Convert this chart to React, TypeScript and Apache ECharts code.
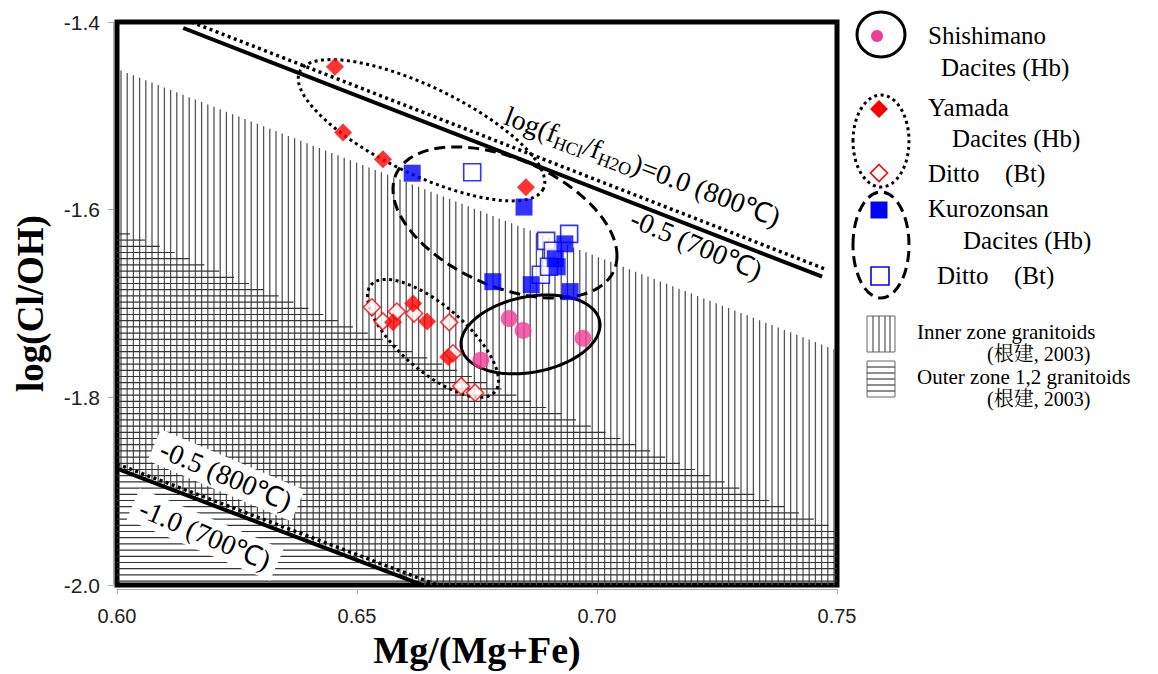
import React, { useEffect, useRef } from "react";
import * as echarts from "echarts";

// ---------------- data ----------------
const xTickValues = [0.6, 0.65, 0.7, 0.75];
const yTickValues = [-2.0, -1.8, -1.6, -1.4];

const shishimanoHb: number[][] = [
  [0.6817, -1.716], [0.6846, -1.7286], [0.6971, -1.7371], [0.6758, -1.7604],
];
const yamadaHb: number[][] = [
  [0.6454, -1.4477], [0.6471, -1.5177], [0.6554, -1.5463], [0.6852, -1.576],
  [0.6617, -1.700], [0.6575, -1.720], [0.6646, -1.719], [0.669, -1.757],
];
const yamadaBt: number[][] = [
  [0.6531, -1.704], [0.6554, -1.719], [0.6583, -1.7085], [0.6619, -1.7106],
  [0.6692, -1.720], [0.670, -1.753], [0.6717, -1.788], [0.6746, -1.795],
];
const kurozonsanHb: number[][] = [
  [0.6615, -1.5611], [0.6848, -1.5972], [0.6783, -1.6767], [0.6863, -1.6799],
  [0.6944, -1.6873], [0.6933, -1.6364], [0.6917, -1.6608], [0.6913, -1.6523],
];
const kurozonsanBt: number[][] = [
  [0.6740, -1.5601], [0.6894, -1.6332], [0.6942, -1.6258], [0.6908, -1.6438],
  [0.6883, -1.6693], [0.6900, -1.6608],
];

// log(fHCl/fH2O) isopleths
const lineHcl00at800: number[][] = [[0.6155, -1.4], [0.7479, -1.664]];
const lineHcl05at700: number[][] = [[0.6138, -1.4064], [0.7469, -1.6714]];
const lineHcl05at800: number[][] = [[0.6, -1.871], [0.6668, -2.0]];
const lineHcl10at700: number[][] = [[0.6, -1.876], [0.6637, -2.0]];

// granitoid fields (根建, 2003)
const innerZone: number[][] = [[0.6, -1.45], [0.75, -1.75], [0.75, -2.0], [0.6637, -2.0], [0.6, -1.876]];
const outerZone: number[][] = [[0.6, -1.62], [0.75, -1.94], [0.75, -2.0], [0.6, -2.0]];

// group ellipses: centre + two conjugate semi-diameters (data units)
const ellipseShishimano = { c: [0.68615, -1.73288], a: [0.014479, 0.010071], b: [0, -0.040814] };
const ellipseYamadaHb = { c: [0.66344, -1.51534], a: [0.025375, -0.06244], b: [-0.004, -0.042086] };
const ellipseYamadaBt = { c: [0.66583, -1.73711], a: [0.012896, -0.057034], b: [-0.00451, -0.0264] };
const ellipseKurozonsan = { c: [0.68083, -1.61361], a: [0.023333, -0.035514], b: [0, -0.0723] };

// line label anchors (data units)
const labelAnchors: number[][] = [[0.6810, -1.499], [0.70729, -1.608], [0.62271, -1.8830], [0.61833, -1.9460]];

// ---------------- styles ----------------
const SERIF = "'Liberation Serif', 'Times New Roman', serif";
const SERIF_CJK = "'Liberation Serif', 'Noto Serif CJK JP', 'Noto Sans CJK JP', serif";
const SANS = "'Liberation Sans', Arial, sans-serif";
const DOT = [3, 3.5];
const DASH = [11, 6];

const ellipseList = [
  { e: ellipseShishimano, dash: null as number[] | null },
  { e: ellipseYamadaHb, dash: DOT },
  { e: ellipseYamadaBt, dash: DOT },
  { e: ellipseKurozonsan, dash: DASH },
];

function span(poly: number[][], axis: number, c: number): [number, number] | null {
  const other = axis === 0 ? 1 : 0;
  const vals: number[] = [];
  for (let i = 0; i < poly.length; i++) {
    const a = poly[i];
    const b = poly[(i + 1) % poly.length];
    const a0 = a[axis], b0 = b[axis];
    if (a0 === b0) continue;
    if ((a0 - c) * (b0 - c) <= 0) {
      const t = (c - a0) / (b0 - a0);
      vals.push(a[other] + t * (b[other] - a[other]));
    }
  }
  if (vals.length < 2) return null;
  return [Math.min(...vals), Math.max(...vals)];
}

function angleOf(api: any, line: number[][]) {
  const p1 = api.coord(line[0]);
  const p2 = api.coord(line[1]);
  return -Math.atan2(p2[1] - p1[1], p2[0] - p1[0]);
}

const txt = (x: number, y: number, text: string, size = 25, family = SERIF) => ({
  type: "text",
  x,
  y,
  silent: true,
  z: 100,
  style: {
    text,
    font: `${size}px ${family}`,
    fontSize: size,
    fontFamily: family,
    fill: "#000",
    align: "left",
    verticalAlign: "middle",
  },
});

const diamond = (cx: number, cy: number, h: number, filled: boolean) => ({
  type: "polygon",
  silent: true,
  z: 100,
  shape: { points: [[cx, cy - h], [cx + h, cy], [cx, cy + h], [cx - h, cy]] },
  style: filled ? { fill: "#ff0000" } : { fill: "#fff", stroke: "#ff0000", lineWidth: 1.6 },
});

const square = (cx: number, cy: number, s: number, filled: boolean) => ({
  type: "rect",
  silent: true,
  z: 100,
  shape: { x: cx - s / 2, y: cy - s / 2, width: s, height: s },
  style: filled ? { fill: "#0000ff" } : { fill: "#fff", stroke: "#0000ff", lineWidth: 1.6 },
});

function legendGraphics() {
  const g: any[] = [];
  g.push({ type: "ellipse", z: 100, silent: true, shape: { cx: 881, cy: 34.5, rx: 24, ry: 22.5 }, style: { fill: "none", stroke: "#000", lineWidth: 3 } });
  g.push({ type: "circle", z: 100, silent: true, shape: { cx: 877, cy: 36, r: 6 }, style: { fill: "#f03c96" } });
  g.push(txt(928, 35, "Shishimano"), txt(941, 67, "Dacites (Hb)"));

  g.push({ type: "ellipse", z: 100, silent: true, shape: { cx: 881, cy: 141, rx: 28, ry: 46 }, style: { fill: "none", stroke: "#000", lineWidth: 3, lineDash: DOT } });
  g.push(diamond(879, 109, 9, true), diamond(879, 173, 8.5, false));
  g.push(txt(928, 107, "Yamada"), txt(952, 138, "Dacites (Hb)"), txt(928, 173, "Ditto"), txt(1005, 173, "(Bt)"));

  g.push({ type: "ellipse", z: 100, silent: true, shape: { cx: 881, cy: 245, rx: 28, ry: 53 }, style: { fill: "none", stroke: "#000", lineWidth: 3, lineDash: DASH } });
  g.push(square(879, 210, 17, true), square(880, 276, 18, false));
  g.push(txt(928, 208, "Kurozonsan"), txt(963, 240, "Dacites (Hb)"), txt(937, 275, "Ditto"), txt(1014, 275, "(Bt)"));

  // hatch legend boxes
  g.push({ type: "rect", z: 100, silent: true, shape: { x: 867, y: 316, width: 28, height: 36 }, style: { fill: "#fff", stroke: "#666", lineWidth: 1 } });
  [873, 879, 885, 890].forEach((x) =>
    g.push({ type: "line", z: 100, silent: true, shape: { x1: x, y1: 316, x2: x, y2: 352 }, style: { stroke: "#555", lineWidth: 1.2 } })
  );
  g.push({ type: "rect", z: 100, silent: true, shape: { x: 867, y: 361, width: 28, height: 36 }, style: { fill: "#fff", stroke: "#666", lineWidth: 1 } });
  [367, 373, 379, 385, 391].forEach((y) =>
    g.push({ type: "line", z: 100, silent: true, shape: { x1: 867, y1: y, x2: 895, y2: y }, style: { stroke: "#444", lineWidth: 1.2 } })
  );
  g.push(txt(917, 332, "Inner zone granitoids", 21, SERIF_CJK), txt(987, 354, "(根建, 2003)", 20, SERIF_CJK));
  g.push(txt(917, 377, "Outer zone 1,2 granitoids", 21, SERIF_CJK), txt(987, 399, "(根建, 2003)", 20, SERIF_CJK));
  return g;
}

function buildOption(): any {
  const refLine = (data: number[][], dotted: boolean) => ({
    type: "line",
    data,
    symbol: "none",
    showSymbol: false,
    silent: true,
    lineStyle: { color: "#000", width: dotted ? 3.5 : 4, type: dotted ? DOT : "solid" },
  });

  return {
    animation: false,
    backgroundColor: "#fff",
    grid: { left: 117, right: 321, top: 22, bottom: 86, show: true, borderColor: "#000", borderWidth: 5 },
    xAxis: {
      type: "value",
      min: xTickValues[0],
      max: xTickValues[xTickValues.length - 1],
      interval: 0.05,
      offset: 4,
      axisLine: { show: true, onZero: false, lineStyle: { color: "#aaa", width: 1 } },
      axisTick: { show: true, length: 5, lineStyle: { color: "#aaa" } },
      splitLine: { show: false },
      axisLabel: { formatter: (v: number) => v.toFixed(2), fontSize: 20, color: "#222", fontFamily: SANS, margin: 17 },
      name: "Mg/(Mg+Fe)",
      nameLocation: "middle",
      nameGap: 37,
      nameTextStyle: { fontFamily: SERIF, fontWeight: "bold", fontSize: 38, color: "#000" },
    },
    yAxis: {
      type: "value",
      min: yTickValues[0],
      max: yTickValues[yTickValues.length - 1],
      interval: 0.2,
      offset: 4,
      axisLine: { show: true, onZero: false, lineStyle: { color: "#aaa", width: 1 } },
      axisTick: { show: true, length: 5, lineStyle: { color: "#aaa" } },
      splitLine: { show: false },
      axisLabel: { formatter: (v: number) => v.toFixed(1), fontSize: 21, color: "#222", fontFamily: SANS, margin: 13 },
      name: "log(Cl/OH)",
      nameLocation: "middle",
      nameGap: 64,
      nameTextStyle: { fontFamily: SERIF, fontWeight: "bold", fontSize: 37, color: "#000" },
    },
    graphic: legendGraphics(),
    series: [
      {
        type: "custom",
        name: "zones",
        silent: true,
        clip: true,
        data: [innerZone[0], outerZone[0]],
        renderItem: (params: any, api: any) => {
          const vertical = params.dataIndex === 0;
          const poly = (vertical ? innerZone : outerZone).map((p) => api.coord(p));
          const children: any[] = [];
          if (vertical) {
            const xs = poly.map((p) => p[0]);
            const x0 = Math.min(...xs), x1 = Math.max(...xs);
            for (let x = x0 + 4; x < x1 - 2; x += 6.2) {
              const r = span(poly, 0, x);
              if (r) children.push({ type: "line", shape: { x1: x, y1: r[0], x2: x, y2: r[1] }, style: { stroke: "#555", lineWidth: 1.3 } });
            }
          } else {
            const ys = poly.map((p) => p[1]);
            const y0 = Math.min(...ys), y1 = Math.max(...ys);
            for (let y = y1 - 4; y > y0; y -= 6.2) {
              const r = span(poly, 1, y);
              if (r) children.push({ type: "line", shape: { x1: r[0], y1: y, x2: r[1], y2: y }, style: { stroke: "#333", lineWidth: 1.2 } });
            }
          }
          return { type: "group", children };
        },
      },
      {
        type: "custom",
        name: "labels",
        silent: true,
        clip: false,
        data: labelAnchors,
        renderItem: (params: any, api: any) => {
          const i = params.dataIndex;
          const p = api.coord(labelAnchors[i]);
          if (i === 0) {
            return {
              type: "text",
              x: p[0],
              y: p[1],
              rotation: angleOf(api, lineHcl00at800) + 0.012,
              style: {
                text: "{a|log(f}{s|HCl}{a|/f}{s|H2O}{a|)=0.0 (800℃)}",
                align: "left",
                verticalAlign: "middle",
                rich: {
                  a: { fontSize: 28, fontFamily: SERIF, fill: "#000" },
                  s: { fontSize: 18, fontFamily: SERIF, fill: "#000", padding: [16, 0, 0, 0] },
                },
              },
            };
          }
          if (i === 1) {
            return {
              type: "text",
              x: p[0],
              y: p[1],
              rotation: angleOf(api, lineHcl05at700) - 0.03,
              style: { text: "-0.5 (700℃)", fontSize: 28, fontFamily: SERIF, fill: "#000", align: "left", verticalAlign: "middle" },
            };
          }
          return {
            type: "text",
            x: p[0],
            y: p[1],
            rotation: angleOf(api, i === 2 ? lineHcl05at800 : lineHcl10at700) - 0.04,
            style: {
              text: i === 2 ? "-0.5 (800℃)" : "-1.0 (700℃)",
              fontSize: 28,
              fontFamily: SERIF,
              fill: "#000",
              align: "center",
              verticalAlign: "middle",
              backgroundColor: "#fff",
              padding: [3, 8, 3, 8],
            },
          };
        },
      },
      refLine(lineHcl00at800, true),
      refLine(lineHcl05at700, false),
      refLine(lineHcl05at800, true),
      refLine(lineHcl10at700, false),
      {
        type: "custom",
        name: "groups",
        silent: true,
        clip: true,
        data: ellipseList.map((d) => d.e.c),
        renderItem: (params: any, api: any) => {
          const { e, dash } = ellipseList[params.dataIndex];
          const pts: number[][] = [];
          const n = 160;
          for (let k = 0; k < n; k++) {
            const t = (k / n) * Math.PI * 2;
            pts.push(
              api.coord([
                e.c[0] + e.a[0] * Math.cos(t) + e.b[0] * Math.sin(t),
                e.c[1] + e.a[1] * Math.cos(t) + e.b[1] * Math.sin(t),
              ])
            );
          }
          const style: any = { fill: "none", stroke: "#000", lineWidth: 3 };
          if (dash) style.lineDash = dash;
          return { type: "polygon", shape: { points: pts }, style };
        },
      },
      { type: "scatter", name: "Yamada Bt", data: yamadaBt, symbol: "diamond", symbolSize: 17, silent: true, itemStyle: { color: "#fff", borderColor: "#ff0000", borderWidth: 1.6 } },
      { type: "scatter", name: "Yamada Hb", data: yamadaHb, symbol: "diamond", symbolSize: 18, silent: true, itemStyle: { color: "#ff0000" } },
      { type: "scatter", name: "Kurozonsan Bt", data: kurozonsanBt, symbol: "rect", symbolSize: 17, silent: true, itemStyle: { color: "#fff", borderColor: "#0000ff", borderWidth: 1.6 } },
      { type: "scatter", name: "Kurozonsan Hb", data: kurozonsanHb, symbol: "rect", symbolSize: 17, silent: true, itemStyle: { color: "#0000ff" } },
      { type: "scatter", name: "Shishimano Hb", data: shishimanoHb, symbol: "circle", symbolSize: 17, silent: true, itemStyle: { color: "#f03c96" } },
    ],
  };
}

export default function App() {
  const ref = useRef<HTMLDivElement>(null);
  useEffect(() => {
    if (!ref.current) return;
    const chart = echarts.init(ref.current, null, { renderer: "svg" });
    chart.setOption(buildOption());
    return () => chart.dispose();
  }, []);
  return (
    <div
      ref={ref}
      style={{ position: "fixed", left: 0, top: 0, width: 1158, height: 674, background: "#fff" }}
    />
  );
}
